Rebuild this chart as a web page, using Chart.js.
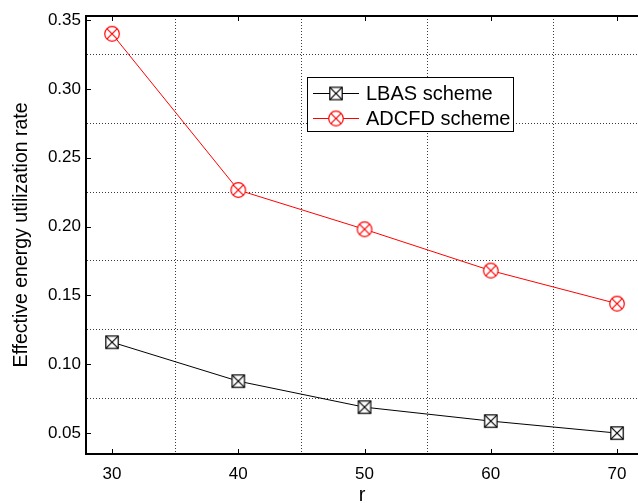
<!DOCTYPE html>
<html>
<head>
<meta charset="utf-8">
<script src="https://cdn.jsdelivr.net/npm/chart.js@4/dist/chart.umd.min.js"></script>
<style>
  html, body { margin: 0; padding: 0; background: #fff; }
  canvas { display: block; }
</style>
</head>
<body>
<canvas id="chart" width="638" height="503"></canvas>
<script>
// Communication radius r and the resulting effective energy utilization rate
const rValues   = [30, 40, 50, 60, 70];
const lbasRate  = [0.116, 0.0877, 0.0688, 0.0587, 0.050];
const adcfdRate = [0.340, 0.2265, 0.198, 0.168, 0.144];
const seriesNames = ['LBAS scheme', 'ADCFD scheme'];

// Tick positions: labelled majors plus dotted-grid minors in between
const xTickValues = [30, 35, 40, 45, 50, 55, 60, 65, 70];
const yTickValues = [0.05, 0.075, 0.10, 0.125, 0.15, 0.175, 0.20, 0.225, 0.25, 0.275, 0.30, 0.325, 0.35];

const FONT = "'Liberation Sans', Arial, Helvetica, sans-serif";
const GRID_COLOR = '#3a3a3a';

// Marker glyphs: square with a cross, circle with a cross
function makeMarker(kind, color) {
  const size = 18;
  const c = document.createElement('canvas');
  c.width = size; c.height = size;
  const g = c.getContext('2d');
  const m = size / 2;
  g.strokeStyle = color;
  g.fillStyle = '#fff';
  g.lineWidth = 1.2;
  if (kind === 'circle') {
    const r = 7.3;
    g.beginPath(); g.arc(m, m, r, 0, Math.PI * 2); g.fill(); g.stroke();
    const d = r * Math.SQRT1_2;
    g.beginPath();
    g.moveTo(m - d, m - d); g.lineTo(m + d, m + d);
    g.moveTo(m + d, m - d); g.lineTo(m - d, m + d);
    g.stroke();
  } else {
    const h = 6.2;
    g.fillRect(m - h, m - h, 2 * h, 2 * h);
    g.strokeRect(m - h, m - h, 2 * h, 2 * h);
    g.beginPath();
    g.moveTo(m - h, m - h); g.lineTo(m + h, m + h);
    g.moveTo(m + h, m - h); g.lineTo(m - h, m + h);
    g.stroke();
  }
  return c;
}

const squareMarker = makeMarker('square', '#000');
const circleMarker = makeMarker('circle', '#ff0000');

const isMajor = (v, step) => Math.round(v / step) % 2 === 0;

// Top frame line and inward tick marks at the labelled positions
const framePlugin = {
  id: 'frame',
  afterDraw(chart) {
    const { ctx, chartArea: a, scales: { x, y } } = chart;
    ctx.save();
    ctx.strokeStyle = '#000';
    ctx.lineWidth = 2;
    ctx.beginPath();
    ctx.moveTo(a.left - 1, a.top);
    ctx.lineTo(a.right, a.top);
    ctx.stroke();
    ctx.lineWidth = 1;
    ctx.beginPath();
    xTickValues.filter(v => isMajor(v - 30, 5)).forEach(v => {
      const px = Math.round(x.getPixelForValue(v)) + 0.5;
      ctx.moveTo(px, a.bottom); ctx.lineTo(px, a.bottom - 5);
      ctx.moveTo(px, a.top); ctx.lineTo(px, a.top + 5);
    });
    yTickValues.filter(v => isMajor(v - 0.05, 0.025)).forEach(v => {
      const py = Math.round(y.getPixelForValue(v)) + 0.5;
      ctx.moveTo(a.left, py); ctx.lineTo(a.left + 5, py);
    });
    ctx.stroke();
    ctx.restore();
  }
};

// Boxed legend inside the plot: line - marker - line, then the series name
const boxLegendPlugin = {
  id: 'boxLegend',
  afterDraw(chart) {
    const { ctx } = chart;
    const box = { x: 307.5, y: 77.5, w: 206, h: 54 };
    ctx.save();
    ctx.fillStyle = '#fff';
    ctx.fillRect(box.x, box.y, box.w, box.h);
    ctx.strokeStyle = '#000';
    ctx.lineWidth = 1;
    ctx.strokeRect(box.x, box.y, box.w, box.h);
    ctx.font = '20px ' + FONT;
    ctx.textBaseline = 'middle';
    ctx.textAlign = 'left';
    chart.data.datasets.forEach((ds, i) => {
      const cy = 93 + i * 25;
      ctx.strokeStyle = ds.borderColor;
      ctx.beginPath();
      ctx.moveTo(313, cy + 0.5); ctx.lineTo(359, cy + 0.5);
      ctx.stroke();
      const img = ds.pointStyle;
      ctx.drawImage(img, 336 - img.width / 2, cy + 0.5 - img.height / 2);
      ctx.fillStyle = '#000';
      ctx.fillText(ds.label, 366, cy + 1);
    });
    ctx.restore();
  }
};

new Chart(document.getElementById('chart'), {
  type: 'line',
  data: {
    datasets: [
      {
        label: seriesNames[0],
        data: rValues.map((r, i) => ({ x: r, y: lbasRate[i] })),
        borderColor: '#000',
        borderWidth: 1,
        pointStyle: squareMarker,
        pointRadius: 7,
        tension: 0
      },
      {
        label: seriesNames[1],
        data: rValues.map((r, i) => ({ x: r, y: adcfdRate[i] })),
        borderColor: '#ff0000',
        borderWidth: 1,
        pointStyle: circleMarker,
        pointRadius: 8,
        tension: 0
      }
    ]
  },
  options: {
    responsive: false,
    animation: false,
    layout: { autoPadding: false, padding: { top: 16, right: 0, bottom: 0, left: 0 } },
    plugins: { legend: { display: false }, tooltip: { enabled: false } },
    scales: {
      x: {
        type: 'linear',
        min: 27.94,
        max: 71.66,
        afterBuildTicks: s => { s.ticks = xTickValues.map(v => ({ value: v })); },
        afterFit: s => { s.height = 49; },
        ticks: {
          autoSkip: false,
          maxRotation: 0,
          padding: 10,
          color: '#000',
          font: { family: FONT, size: 17 },
          callback: v => (isMajor(v - 30, 5) ? String(v) : '')
        },
        grid: {
          drawTicks: false,
          lineWidth: 1,
          color: c => (c.tick && !isMajor(c.tick.value - 30, 5)) ? GRID_COLOR : 'rgba(0,0,0,0)'
        },
        border: { color: '#000', width: 2, dash: [1, 2] },
        title: {
          display: true,
          text: 'r',
          color: '#000',
          font: { family: FONT, size: 20, lineHeight: 1 },
          padding: { top: 0, bottom: -2 }
        }
      },
      y: {
        type: 'linear',
        min: 0.0348,
        max: 0.3529,
        afterBuildTicks: s => { s.ticks = yTickValues.map(v => ({ value: v })); },
        afterFit: s => { s.width = 86; },
        ticks: {
          autoSkip: false,
          padding: 5,
          color: '#000',
          font: { family: FONT, size: 17 },
          callback: v => (isMajor(v - 0.05, 0.025) ? v.toFixed(2) : '')
        },
        grid: {
          drawTicks: false,
          lineWidth: 1,
          color: c => (c.tick && !isMajor(c.tick.value - 0.05, 0.025)) ? GRID_COLOR : 'rgba(0,0,0,0)'
        },
        border: { color: '#000', width: 2, dash: [1, 2] },
        title: {
          display: true,
          text: 'Effective energy utilization rate',
          color: '#000',
          font: { family: FONT, size: 19.5 },
          padding: { top: 10, bottom: 0 }
        }
      }
    }
  },
  plugins: [framePlugin, boxLegendPlugin]
});
</script>
</body>
</html>
